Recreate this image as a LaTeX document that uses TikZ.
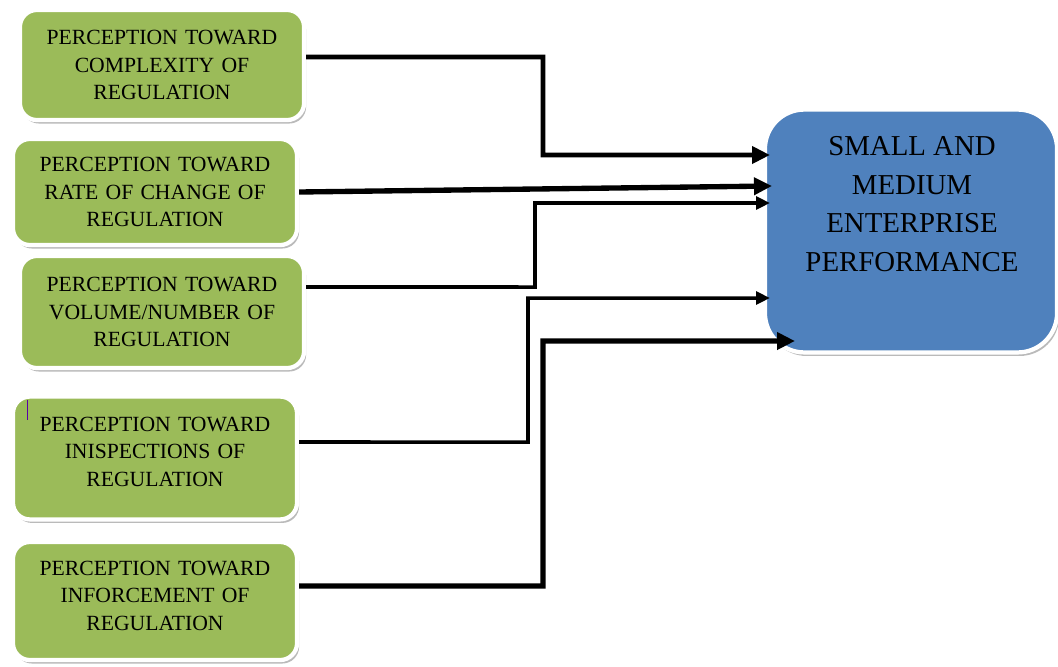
\documentclass[tikz,border=0pt]{standalone}
\usepackage{fontspec}
\setmainfont{Liberation Serif}
\usetikzlibrary{arrows.meta,shadows}
\definecolor{boxgreen}{RGB}{155,187,89}
\definecolor{boxblue}{RGB}{79,129,189}
\tikzset{
    factor/.style={draw=white, line width=3pt, fill=boxgreen, rounded corners=12pt,
        minimum width=7.1cm, align=center, text width=6.6cm,
        font=\fontsize{15.4}{19.4}\selectfont,
        drop shadow={shadow xshift=1.5pt, shadow yshift=-2.5pt, fill=black!45, opacity=0.6}},
    outcome/.style={draw=white, line width=3pt, fill=boxblue, rounded corners=28pt,
        minimum width=7.3cm, minimum height=6.07cm,
        drop shadow={shadow xshift=1.5pt, shadow yshift=-2.5pt, fill=black!45, opacity=0.6}},
    link/.style={line width=3.3pt, -{Triangle[length=0.45cm, width=0.42cm]}},
    thinlink/.style={line width=2.5pt, -{Triangle[length=0.35cm, width=0.32cm]}},
}
\begin{document}
\begin{tikzpicture}[x=0.025cm, y=-0.025cm]
    \useasboundingbox (0,0) rectangle (1058,666);

    % factors
    \node[factor, minimum height=2.75cm] (p1) at (162,65) {PERCEPTION TOWARD\\COMPLEXITY OF\\REGULATION};
    \node[factor, minimum height=2.65cm] (p2) at (155,192) {PERCEPTION TOWARD\\RATE OF CHANGE OF\\REGULATION};
    \node[factor, minimum height=2.8cm] (p3) at (162,312) {PERCEPTION TOWARD\\VOLUME/NUMBER OF\\REGULATION};
    \node[factor, minimum height=3.07cm] (p4) at (155,458) {PERCEPTION TOWARD\\INISPECTIONS OF\\REGULATION\rule[-0.32cm]{0pt}{0.1cm}};
    \node[factor, minimum height=2.95cm] (p5) at (155,601) {PERCEPTION TOWARD\\INFORCEMENT OF\\REGULATION\rule[-0.26cm]{0pt}{0.1cm}};
    \draw[violet!70!blue, line width=0.6pt] (27,400) -- (27,420); % cursor

    % outcome
    \node[outcome] (sme) at (911,231) {};
    \node[anchor=north, inner sep=0pt, align=center, font=\fontsize{20.5}{27.5}\selectfont]
        (smelabel) at (912,136) {SMALL AND\\MEDIUM\\ENTERPRISE\\PERFORMANCE};

    \coordinate (in1) at (770,155);
    \coordinate (in2) at (772,186);
    \coordinate (in3) at (770,203);
    \coordinate (in4) at (770,298);
    \coordinate (in5) at (795,341);

    % links
    \draw[link] ([yshift=0.2cm]p1.east) -- (543,57) |- (in1);
    \draw[link, line width=3.8pt] (p2.east) -- (in2);
    \draw[thinlink] ([yshift=0.625cm]p3.east) -- (535,287) |- (in3);
    \draw[thinlink] ([yshift=0.4cm]p4.east) -- (528,442) |- (in4);
    \draw[link, line width=3.8pt] ([yshift=0.375cm]p5.east) -- (543,586) |- (in5);
\end{tikzpicture}
\end{document}
